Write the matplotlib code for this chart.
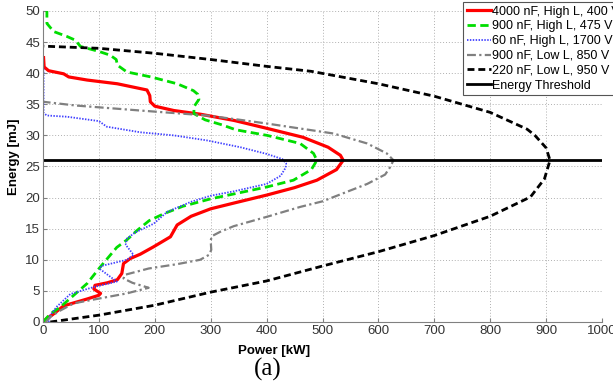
import matplotlib
matplotlib.use("Agg")
import matplotlib.pyplot as plt

plt.rcParams['font.family'] = ['Liberation Sans', 'DejaVu Sans']

# ---- data (Power [kW], Energy [mJ]) ----
labels = ["4000 nF, High L, 400 V", "900 nF, High L, 475 V", "60 nF, High L, 1700 V",
          "900 nF, Low L, 850 V", "220 nF, Low L, 950 V", "Energy Threshold"]

red_p = [0, 7, 16, 37, 79, 100, 103, 91, 93, 115, 133, 141, 144, 156, 174, 198, 228, 240, 265, 300,
         345, 400, 450, 490, 525, 537, 532, 510, 465, 402, 342, 282, 234, 200, 192, 191, 186, 133,
         79, 46, 37, 10, 2, 1]
red_e = [0, 0.6, 1.1, 2.6, 3.7, 4.3, 4.6, 5.3, 5.9, 6.3, 6.8, 7.8, 9.4, 10.2, 10.9, 12.1, 13.7, 15.6, 17.0, 18.2,
         19.2, 20.4, 21.6, 22.8, 24.5, 26.0, 26.8, 28.1, 29.7, 31.1, 32.4, 33.4, 34.0, 34.7, 35.4, 36.4, 37.3, 38.3,
         38.9, 39.4, 39.9, 40.4, 41.0, 42.5]

green_p = [0, 13, 31, 55, 79, 102, 132, 150, 168, 190, 216, 250, 300, 400, 448, 480, 490, 484, 460, 401,
           345, 320, 290, 270, 270, 279, 277, 269, 240, 193, 150, 133, 131, 120, 100, 67, 58, 43, 19, 7, 7]
green_e = [0, 1.3, 2.4, 4.3, 6.2, 8.8, 12.0, 13.2, 14.7, 16.3, 17.4, 18.6, 19.8, 21.7, 22.8, 24.5, 26.0, 27.1, 28.7, 30.0,
           30.9, 31.7, 32.5, 33.5, 34.6, 35.8, 36.6, 37.2, 38.3, 39.4, 40.2, 41.3, 42.2, 42.9, 43.5, 44.3, 45.3, 45.9,
           46.7, 48.0, 50.0]

blue_p = [10, 13, 25, 49, 90, 132, 102, 104, 150, 162, 148, 150, 165, 198, 222, 264, 300, 341, 400, 425, 434,
          435, 428, 401, 353, 293, 234, 174, 114, 100, 43, 7, 1, 1]
blue_e = [0, 1.1, 2.5, 4.5, 5.6, 6.5, 8.5, 9.0, 10.0, 10.8, 12.4, 13.4, 14.4, 15.8, 17.7, 19.3, 20.3, 21.0, 22.2, 23.5, 24.8,
          25.5, 26.2, 27.0, 28.1, 29.2, 30.0, 30.5, 31.4, 32.3, 33.0, 33.2, 33.6, 41.0]

gray_p = [5, 13, 30, 55, 90, 114, 150, 189, 160, 144, 147, 189, 240, 281, 297, 301, 300, 302, 317, 341, 400, 460,
          500, 520, 580, 612, 621, 627, 615, 580, 520, 401, 353, 293, 174, 59, 1]
gray_e = [0, 0.8, 1.8, 3.0, 3.6, 4.0, 4.6, 5.5, 6.3, 7.0, 7.6, 8.6, 9.3, 10.0, 10.8, 11.6, 13.1, 13.8, 14.5, 15.4, 16.9, 18.5,
          19.4, 20.1, 22.2, 23.7, 24.9, 26.0, 27.1, 28.7, 30.3, 31.9, 32.5, 33.2, 34.0, 34.8, 35.4]

black_p = [13, 100, 200, 300, 400, 500, 600, 700, 800, 872, 897, 907, 900, 880, 866, 800, 700, 600, 480, 400,
           300, 200, 100, 0]
black_e = [0, 1.1, 2.7, 4.8, 6.6, 9.0, 11.3, 13.9, 17.0, 20.1, 23.0, 26.0, 28.0, 30.0, 31.0, 33.7, 36.3, 38.3, 40.3, 41.1,
           42.2, 43.2, 44.0, 44.35]

threshold = 26.0
x_range = [0, 1000]

fig = plt.figure(figsize=(6.13, 3.85), dpi=100)
ax = fig.add_axes([43/613, 63/385, 559/613, 311/385])

l1, = ax.plot(red_p, red_e, color='#ff0000', lw=2.3, solid_joinstyle='round')
l2, = ax.plot(green_p, green_e, color='#00dd00', lw=2.0, linestyle=(0, (3, 1.6)))
l3, = ax.plot(blue_p, blue_e, color='#4040ff', lw=1.3, linestyle=(0, (0.8, 0.8)))
l4, = ax.plot(gray_p, gray_e, color='#808080', lw=1.6, linestyle=(0, (4, 1.5, 1, 1.5)))
l5, = ax.plot(black_p, black_e, color='black', lw=2.0, linestyle=(0, (2.5, 1.4)))
l6, = ax.plot(x_range, [threshold, threshold], color='black', lw=2.0)

ax.set_xlim(0, 1000)
ax.set_ylim(0, 50)
ax.set_xticks(range(0, 1001, 100))
ax.set_yticks(range(0, 51, 5))
ax.grid(True, linestyle=(0, (1, 2)), color='#b0b0b0', lw=0.7)
for s in ['top', 'right']:
    ax.spines[s].set_visible(False)
for s in ['left', 'bottom']:
    ax.spines[s].set_color('#808080')
ax.tick_params(direction='in', length=3, color='#808080', labelsize=9.5, labelcolor='#333333', pad=2)

ax.set_xlabel("Power [kW]", fontweight='bold', fontsize=9.5, labelpad=2)
ax.xaxis.set_label_coords(0.413, -0.075)
ax.set_ylabel("Energy [mJ]", fontweight='bold', fontsize=9.5, labelpad=2)
ax.yaxis.set_label_coords(-0.042, 0.53)

fig.text(268/613, 1 - 369/385, "(a)", family=['Liberation Serif', 'DejaVu Serif'], fontsize=18,
         ha='center', va='center')

leg = fig.legend([l1, l2, l3, l4, l5, l6], labels, loc='upper left',
                 bbox_to_anchor=(463/613, 1 - 2/385), borderaxespad=0, fontsize=9,
                 handlelength=1.9, handletextpad=0.15, labelspacing=0.22, borderpad=0.3,
                 fancybox=False, frameon=True, framealpha=1)
leg.get_frame().set_edgecolor('#555555')
leg.get_frame().set_linewidth(0.8)

fig.savefig("out.png", dpi=100)
